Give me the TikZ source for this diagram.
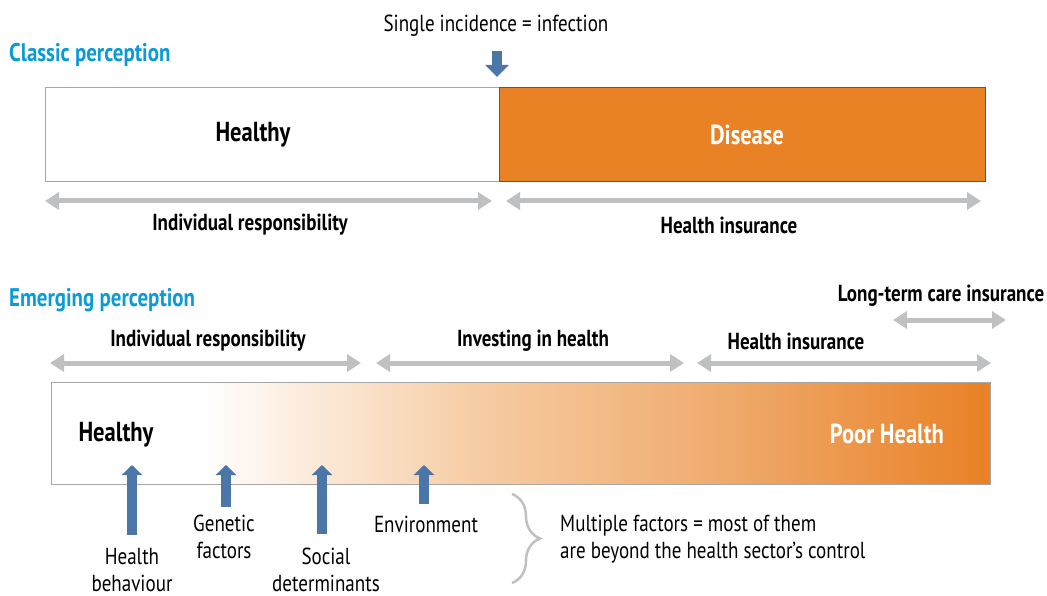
\documentclass[tikz,border=0pt]{standalone}
\usepackage{fontspec}
\setmainfont{PT Sans}[FakeStretch=0.82]
\usepackage{tikz}
\usetikzlibrary{arrows.meta,positioning,decorations.pathreplacing}
\definecolor{title}{HTML}{0A9AD7}
\definecolor{ill}{HTML}{E98125}
\definecolor{fadeA}{HTML}{F6CBA2}
\definecolor{fadeB}{HTML}{EFAA6C}
\definecolor{pointer}{HTML}{4A76A8}
\definecolor{span}{HTML}{BFC0C2}
\definecolor{frame}{HTML}{A6A6A6}
\definecolor{rim}{HTML}{3B5C94}
\pgfdeclarehorizontalshading{poorhealth}{100bp}{color(0bp)=(white); color(33bp)=(white); color(48bp)=(fadeA); color(61bp)=(fadeB); color(75bp)=(ill); color(100bp)=(ill)}
\tikzset{
    %Define style for headings
    heading/.style={
        font=\fontsize{25.5}{30}\selectfont\bfseries,
        text=title,
        anchor=west,
        inner sep=0pt
    },
    %Define style for states
    state/.style={
        font=\fontsize{27.5}{32}\selectfont\bfseries,
        inner sep=0pt
    },
    zone/.style={
        font=\fontsize{23.2}{27}\selectfont\bfseries,
        inner sep=0pt
    },
    note/.style={
        font=\fontsize{23.2}{26.5}\selectfont,
        align=center,
        inner sep=0pt
    },
    % Define arrow styles
    spanarrow/.style={
        {Triangle[width=17pt,length=14pt]}-{Triangle[width=17pt,length=14pt]},
        line width=5pt,
        draw=span
    },
    push/.style={
        -{Triangle[width=20pt,length=10pt]},
        line width=9.5pt,
        draw=pointer
    },
}
\begin{document}
\begin{tikzpicture}[x=1pt,y=-1pt]
\useasboundingbox (0,0) rectangle (1047,596);
%classic perception
\node[heading](classic) at (9,55){Classic perception};
\node[note](single) at (496,26){Single incidence = infection};
\coordinate (sTop) at (497,51);
\coordinate (sTip) at (497,77);
\draw[push,-{Triangle[width=23pt,length=12pt]}] (sTop) -- (sTip);
\node[draw=frame,fill=white,minimum width=454pt,minimum height=94pt](hbox) at (272,134){};
\node[draw=rim,fill=ill,minimum width=486pt,minimum height=94pt](dbox) at (742,134){};
\node[state](healthy) at (253,135){Healthy};
\node[state,text=white](disease) at (747,135){Disease};
\coordinate (a1) at (45,201);
\coordinate (a2) at (492,201);
\coordinate (a3) at (506,201);
\coordinate (a4) at (981,201);
\draw[spanarrow] (a1) -- (a2);
\draw[spanarrow] (a3) -- (a4);
\node[zone](indiv) at (250,225){Individual responsibility};
\node[zone](insur) at (729,225){Health insurance};
%emerging perception
\node[heading](emerging) at (9,300){Emerging perception};
\node[zone](ltc) at (941,296){Long-term care insurance};
\node[zone](indiv2) at (208,341){Individual responsibility};
\node[zone](invest) at (533,341){Investing in health};
\node[zone](insur2) at (796,341){Health insurance};
\coordinate (b1) at (893,320);
\coordinate (b2) at (1006,320);
\coordinate (c1) at (50,363);
\coordinate (c2) at (361,363);
\coordinate (c3) at (376,363);
\coordinate (c4) at (684,363);
\coordinate (c5) at (697,363);
\coordinate (c6) at (991,363);
\draw[spanarrow] (b1) -- (b2);
\draw[spanarrow] (c1) -- (c2);
\draw[spanarrow] (c3) -- (c4);
\draw[spanarrow] (c5) -- (c6);
\node[draw=frame,shade,shading=poorhealth,minimum width=939pt,minimum height=102pt](bar) at (520.5,433){};
\node[state](healthy2) at (116,435){Healthy};
\node[state,text=white](poor) at (887,434){Poor Health};
%factors
\coordinate (f1) at (132,535);
\coordinate (t1) at (132,465);
\coordinate (f2) at (226,507);
\coordinate (t2) at (226,465);
\coordinate (f3) at (322,534);
\coordinate (t3) at (322,465);
\coordinate (f4) at (424,504);
\coordinate (t4) at (424,465);
\draw[push] (f1) -- (t1);
\draw[push] (f2) -- (t2);
\draw[push] (f3) -- (t3);
\draw[push] (f4) -- (t4);
\node[note](behav) at (132,570){Health\\behaviour};
\node[note](genetic) at (224,537){Genetic\\factors};
\node[note](social) at (326,570){Social\\determinants};
\node[note](env) at (426,524){Environment};
\coordinate (brTop) at (512,494);
\coordinate (brBot) at (512,583);
\draw[decorate,decoration={brace,amplitude=28pt},draw=span,line width=2.5pt] (brTop) -- (brBot);
\node[note,align=left,anchor=west](multi) at (560,539){Multiple factors = most of them\\are beyond the health sector’s control};
\end{tikzpicture}
\end{document}
